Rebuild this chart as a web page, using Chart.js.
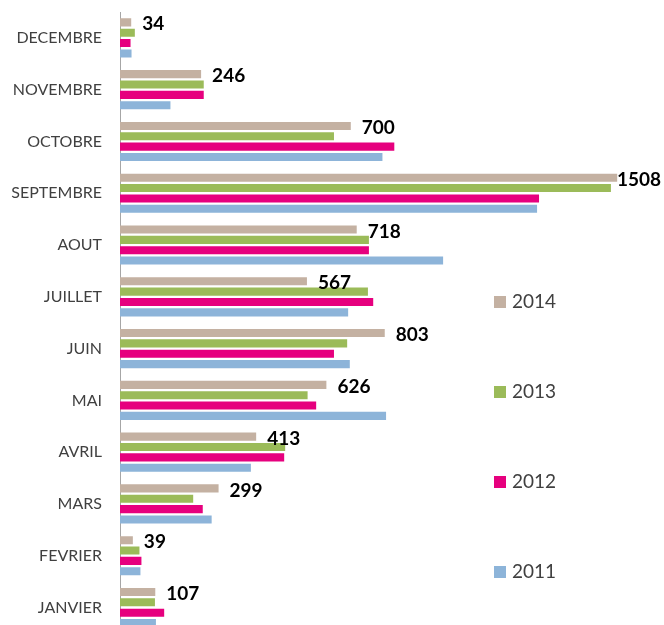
<!DOCTYPE html>
<html>
<head>
<meta charset="utf-8">
<script src="https://cdn.jsdelivr.net/npm/chart.js@4"></script>
<style>
	html,
	body {
		margin: 0;
		padding: 0;
		overflow: hidden;
		background: #fff;
	}
	canvas {
		display: block;
	}
</style>
</head>
<body>
<canvas id="months-chart" width="664" height="643"></canvas>
<script>
const monthsChart = document.getElementById("months-chart");

const months = ["JANVIER", "FEVRIER", "MARS", "AVRIL", "MAI", "JUIN", "JUILLET", "AOUT", "SEPTEMBRE", "OCTOBRE", "NOVEMBRE", "DECEMBRE"];
const years = ["2014", "2013", "2012", "2011"];
const values2014 = [107, 39, 299, 413, 626, 803, 567, 718, 1508, 700, 246, 34];
const values2013 = [106, 59, 222, 501, 569, 689, 752, 755, 1489, 649, 254, 45];
const values2012 = [134, 65, 251, 498, 595, 649, 768, 755, 1271, 832, 254, 32];
const values2011 = [109, 62, 278, 397, 807, 697, 692, 980, 1265, 796, 153, 35];
const colors = ["#c4b1a2", "#9bbb59", "#e6007e", "#8db4d9"];

const series = [values2014, values2013, values2012, values2011];

// labels only on the 2014 bars
const labels2014 = {
	id: "labels2014",
	afterDatasetsDraw(chart) {
		const ctx = chart.ctx;
		const meta = chart.getDatasetMeta(0);
		ctx.save();
		ctx.font = "bold 19px Lato";
		ctx.fillStyle = "#000";
		ctx.textBaseline = "middle";
		ctx.textAlign = "left";
		meta.data.forEach((bar, i) => {
			const text = String(values2014[i]);
			const w = ctx.measureText(text).width;
			let x = bar.x + 11;
			if (x + w > chart.width - 3) {
				x = chart.width - 3 - w;
			}
			ctx.fillText(text, x, bar.y + 2);
		});
		ctx.restore();
	},
};

// legend on the right, spread vertically
const sideLegend = {
	id: "sideLegend",
	afterDraw(chart) {
		const ctx = chart.ctx;
		ctx.save();
		ctx.font = "19px Lato";
		ctx.textBaseline = "middle";
		years.forEach((year, i) => {
			const y = 302 + i * 90;
			ctx.fillStyle = colors[i];
			ctx.fillRect(494, y - 6, 12, 12);
			ctx.fillStyle = "#404040";
			ctx.fillText(year, 512, y);
		});
		ctx.restore();
	},
};

new Chart(monthsChart, {
	type: "bar",
	data: {
		labels: months,
		datasets: years.map((year, i) => ({
			label: year,
			data: series[i],
			backgroundColor: colors[i],
			borderWidth: 0,
			categoryPercentage: 0.8,
			barPercentage: 0.78,
		})),
	},
	plugins: [labels2014, sideLegend],
	options: {
		indexAxis: "y",
		responsive: false,
		animation: false,
		layout: {
			padding: { top: 12, bottom: 0, left: 0, right: 0 },
		},
		plugins: {
			legend: {
				display: false,
			},
			tooltip: {
				enabled: false,
			},
		},
		scales: {
			x: {
				display: false,
				min: 0,
				max: 1650,
			},
			y: {
				reverse: true,
				afterFit(scale) {
					scale.width = 120;
				},
				grid: {
					display: true,
					drawOnChartArea: false,
					drawTicks: true,
					tickLength: 18,
					color: "transparent",
				},
				border: {
					display: true,
					color: "#a6a6a6",
					width: 1,
				},
				ticks: {
					padding: 0,
					color: "#404040",
					font: { family: "Lato", size: 16 },
				},
			},
		},
	},
});
</script>
</body>
</html>
